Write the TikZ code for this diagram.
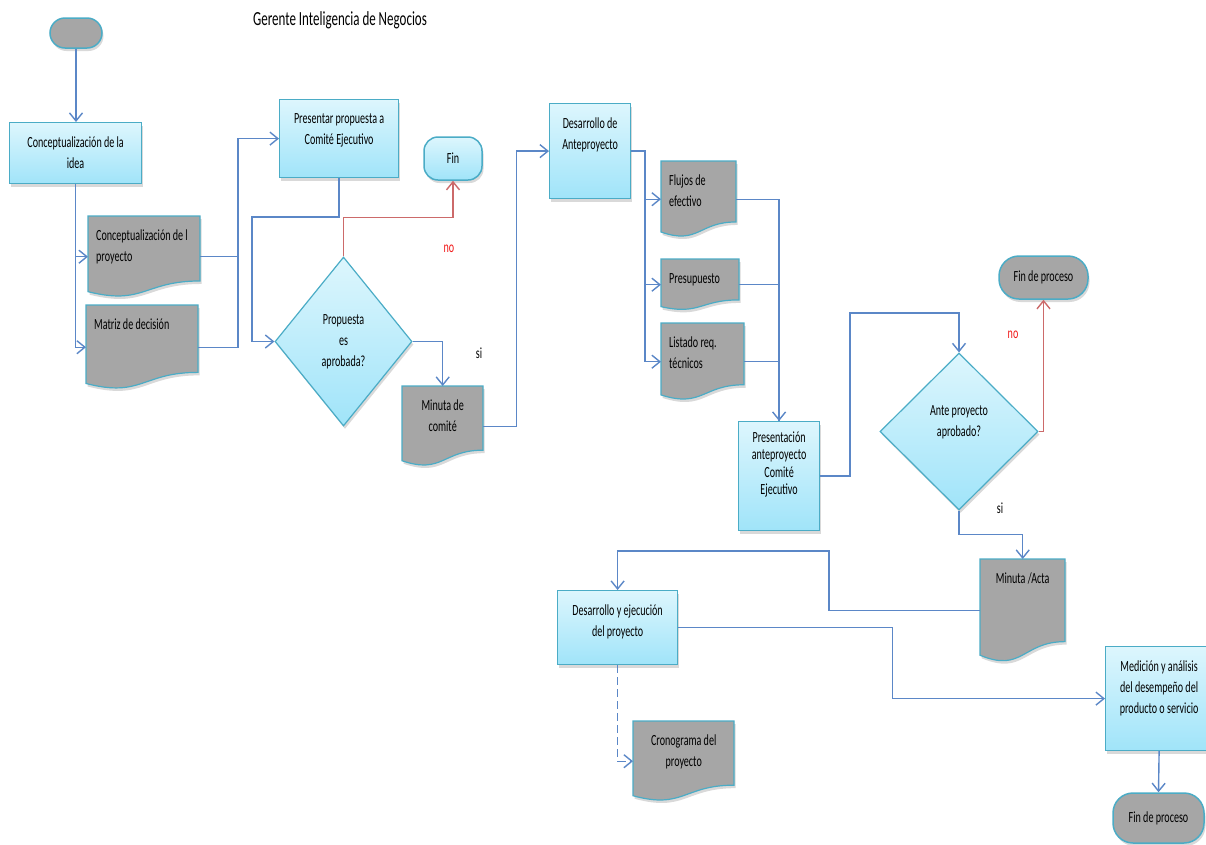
\documentclass[tikz,border=0pt]{standalone}
\usepackage{fontspec}
\setmainfont{Carlito}[FakeStretch=0.65]
\usetikzlibrary{shapes.geometric,arrows.meta,shadows,calc}

\definecolor{boxtop}{HTML}{DDF6FD}
\definecolor{boxbot}{HTML}{A0E4F9}
\definecolor{edge}{HTML}{4BACC6}
\definecolor{docgray}{HTML}{A6A6A6}
\definecolor{link}{HTML}{5B87C7}
\definecolor{nolink}{HTML}{CC6A6A}
\definecolor{nored}{HTML}{F01818}

% fixed-size box with its text set at the top
\newcommand\topbox[4][14pt]{\parbox[c][#3][t]{#2}{\vspace*{#1}#4}}
\newcommand\lft{\raggedright\leftskip=8pt\relax}

\tikzset{
  softshadow/.style={drop shadow={shadow xshift=1.5pt, shadow yshift=-3pt, opacity=0.3}},
  procbox/.style={draw=edge, line width=1.2pt, top color=boxtop, bottom color=boxbot,
    inner sep=0pt, anchor=north west, softshadow},
  docpath/.style={draw=edge, line width=1.2pt, fill=docgray, softshadow},
  dochold/.style={inner sep=0pt, anchor=north west},
  termgray/.style={draw=edge, line width=1.5pt, fill=docgray, rounded corners=15pt,
    inner sep=0pt, softshadow},
  termblue/.style={draw=edge, line width=1.5pt, top color=boxtop, bottom color=boxbot,
    rounded corners=14pt, inner sep=0pt, softshadow},
  decision/.style={diamond, draw=edge, line width=1.2pt, top color=boxtop, bottom color=boxbot,
    inner sep=0pt, align=center, softshadow},
  conn/.style={draw=link, line width=1.4pt},
  arr/.style={conn, -{Straight Barb[length=8pt,width=13pt]}},
  redarr/.style={draw=nolink, line width=1.4pt, -{Straight Barb[length=8pt,width=13pt]}},
  nolabel/.style={text=nored},
}

% document symbol: #1 name, #2 left, #3 top, #4 right, #5 height, #6 alignment, #7 text
\newcommand\docnode[7]{%
  \path[docpath] (#2,#3) -- (#4,#3) -- (#4,{#3+0.802*#5})
    .. controls ({(#2+#4)/2},{#3+0.802*#5}) and ({(#2+#4)/2},{#3+1.107*#5}) ..
    (#2,{#3+0.934*#5}) -- cycle;
  \node[dochold] (#1) at (#2,#3) {\topbox{\dimexpr#4pt-#2pt\relax}{#5pt}{#6#7}};
}

\begin{document}
\begin{tikzpicture}[x=1pt,y=-1pt,font=\fontsize{15.5}{21}\selectfont]
\useasboundingbox (0,0) rectangle (1206,844);

\node[font=\fontsize{20}{24}\selectfont] (title) at (340,20) {Gerente Inteligencia de Negocios};

% terminators
\node[termgray, minimum width=52pt, minimum height=30pt] (start) at (76,33) {};
\node[termblue, minimum width=58pt, minimum height=43pt] (fin) at (453,158.5) {Fin};
\node[termgray, minimum width=89pt, minimum height=43pt, rounded corners=20pt] (fp1) at (1043.5,277.5) {Fin de proceso};
\node[termgray, minimum width=91pt, minimum height=50pt, rounded corners=20pt] (fp2) at (1158.5,818) {Fin de proceso};

% process boxes
\node[procbox] (b1) at (9,122) {\topbox{132pt}{61pt}{\centering Conceptualización de la\\idea}};
\node[procbox] (b2) at (279,99) {\topbox{119pt}{78pt}{\centering Presentar propuesta a\\Comité Ejecutivo}};
\node[procbox] (b3) at (549,103) {\topbox{81pt}{95pt}{\centering Desarrollo de\\Anteproyecto}};
\node[procbox] (b4) at (738,421) {\fontsize{15.5}{17.5}\selectfont\topbox[10pt]{81pt}{109pt}{\centering Presentación\\anteproyecto\\Comité\\Ejecutivo}};
\node[procbox] (b5) at (557,590) {\topbox{120pt}{74pt}{\centering Desarrollo y ejecución\\del proyecto}};
\node[procbox] (b6) at (1105,646) {\topbox{107pt}{104pt}{\centering Medición y análisis\\del desempeño del\\producto o servicio}};

% decisions
\node[decision, minimum width=137pt, minimum height=169pt] (dia1) at (343.5,341.5) {Propuesta\\es\\aprobada?};
\node[decision, minimum width=158pt, minimum height=157pt] (dia2) at (959,431.5) {Ante proyecto\\aprobado?\\\mbox{}};

% documents
\docnode{d1}{88}{216}{200}{81}{\lft}{Conceptualización de l\\proyecto}
\docnode{d2}{86}{305}{198}{84}{\lft}{Matriz de decisión}
\docnode{d3}{402}{386}{483}{80}{\centering}{Minuta de\\comité}
\docnode{d4}{661}{161}{736}{76}{\lft}{Flujos de\\efectivo}
\docnode{d5}{661}{259}{739}{51}{\lft}{Presupuesto}
\docnode{d6}{661}{323}{744}{77}{\lft}{Listado req.\\técnicos}
\docnode{d7}{980}{559}{1065}{103}{\centering}{Minuta /Acta}
\docnode{d8}{633}{721}{734}{80}{\centering}{Cronograma del\\proyecto}

% bend points
\coordinate (j1) at (238,257);
\coordinate (c2) at (252,217);
\coordinate (j3) at (645,151);
\coordinate (c4) at (850,313);
\coordinate (c7) at (829,551);

% connectors
\draw[arr] (start.south) -- (start.south |- b1.north);
\draw[arr] (b1.south) |- (d1.west);
\draw[arr] (b1.south) |- (d2.west);
\draw[arr] (d1.east) -- (d1.east -| j1) |- (b2.west);
\draw[conn] (d2.east) -| (d1.east -| j1);
\draw[arr] (b2.south) |- (c2) |- (dia1.west);
\draw[redarr] (dia1.north) -- ++(0,-39) -| (fin.south);
\draw[arr] (dia1.east) -| (d3.north);
\draw[arr] (d3.east) -- ++(33,0) |- (b3.west);
\draw[arr] (b3.east) -- (b3.east -| j3) |- (d4.west);
\draw[arr] (b3.east -| j3) |- (d5.west);
\draw[arr] (b3.east -| j3) |- (d6.west);
\draw[arr] (d4.east) -| (b4.north);
\draw[conn] (d5.east) -| (b4.north);
\draw[conn] (d6.east) -| (b4.north);
\draw[arr] (b4.east) -| (c4) -| (dia2.north);
\draw[redarr] (dia2.east) -| (fp1.south);
\draw[arr] (dia2.south) -- ++(0,24) -| (d7.north);
\draw[arr] (d7.west) -| (c7) -| (b5.north);
\draw[arr] (b5.east) -- ++(214,0) |- (b6.west);
\draw[arr] (b6.south) -- (fp2.north);
\draw[arr, dash pattern=on 8pt off 4pt] (b5.south) |- (d8.west);

% branch labels
\node[nolabel] (no1) at (449,249) {no};
\node (si1) at (479,353) {si};
\node[nolabel] (no2) at (1013,335) {no};
\node (si2) at (1000,508) {si};
\end{tikzpicture}
\end{document}
